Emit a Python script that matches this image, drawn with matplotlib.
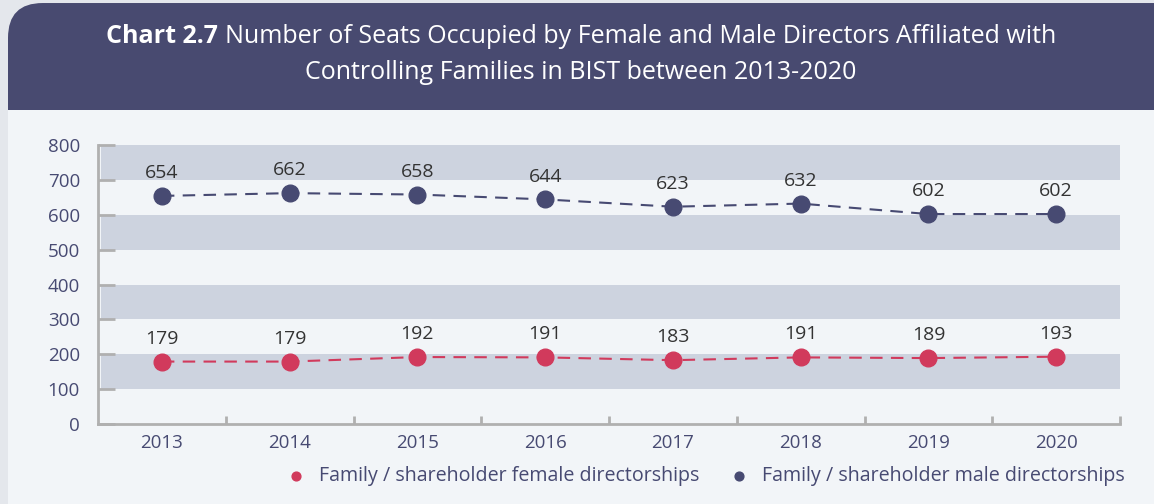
import matplotlib.pyplot as plt
from matplotlib.patches import FancyBboxPatch, Rectangle

# data
years = ['2013', '2014', '2015', '2016', '2017', '2018', '2019', '2020']
female = [179, 179, 192, 191, 183, 191, 189, 193]
male = [654, 662, 658, 644, 623, 632, 602, 602]
yticks = [0, 100, 200, 300, 400, 500, 600, 700, 800]

navy = '#474a72'
red = '#d13a5c'
band = '#cdd3df'
panel = '#f2f5f8'

plt.rcParams['font.family'] = ['Open Sans', 'DejaVu Sans']

fig = plt.figure(figsize=(11.54, 5.04), dpi=100)
fig.patch.set_facecolor('#e4e7ec')

# panel + header (behind the axes)
fig.patches.append(FancyBboxPatch((8 / 1154, 0.5), 1.2, 0.494, boxstyle='round,pad=0,rounding_size=0.03',
                                  transform=fig.transFigure, facecolor='#484a70', edgecolor='none',
                                  mutation_aspect=2.3, zorder=-10))
fig.patches.append(Rectangle((8 / 1154, 0), 1, (504 - 110) / 504, transform=fig.transFigure,
                             facecolor=panel, edgecolor='none', zorder=-9))

# title: bold part + regular part, centred together
r = fig.canvas.get_renderer()
t1 = fig.text(0, 0.927, 'Chart 2.7 ', ha='left', va='center', color='white', fontsize=18, fontweight='bold')
t2 = fig.text(0, 0.927, 'Number of Seats Occupied by Female and Male Directors Affiliated with',
              ha='left', va='center', color='white', fontsize=18)
w1 = t1.get_window_extent(r).width / fig.bbox.width
w2 = t2.get_window_extent(r).width / fig.bbox.width
x0 = 0.5035 - (w1 + w2) / 2
t1.set_x(x0)
t2.set_x(x0 + w1)
fig.text(0.5035, 0.857, 'Controlling Families in BIST between 2013-2020',
         ha='center', va='center', color='white', fontsize=18)

ax = fig.add_axes([98 / 1154, 80 / 504, 1022 / 1154, 279 / 504])
ax.set_facecolor(panel)
x = list(range(len(years)))

for lo in [100, 300, 500, 700]:
    ax.axhspan(lo, lo + 100, xmin=0.003, color=band, lw=0, zorder=0)

ax.plot(x, male, color=navy, ls=(0, (6, 4)), lw=1.5, marker='o', ms=12, zorder=3)
ax.plot(x, female, color=red, ls=(0, (6, 4)), lw=1.5, marker='o', ms=12, zorder=3)
for i in x:
    ax.annotate(str(male[i]), (i, male[i]), xytext=(0, 10), textcoords='offset points',
                ha='center', va='bottom', fontsize=14, color='#333333')
    ax.annotate(str(female[i]), (i, female[i]), xytext=(0, 10), textcoords='offset points',
                ha='center', va='bottom', fontsize=14, color='#333333')

ax.set_xlim(-0.5, 7.5)
ax.set_ylim(0, 800)
ax.set_yticks(yticks)
ax.set_yticklabels([str(v) for v in yticks], fontsize=13.5, color=navy)
ax.set_xticks(x)
ax.set_xticklabels(years, fontsize=13.5, color=navy)
ax.set_xticks([i + 0.5 for i in x], minor=True)
ax.tick_params(axis='x', which='major', length=0, pad=7)
ax.tick_params(axis='x', which='minor', direction='in', length=6, width=2, color='#b0b0b0')
ax.tick_params(axis='y', direction='in', length=12, width=2, color='#b0b0b0', pad=13)
for s in ['top', 'right']:
    ax.spines[s].set_visible(False)
for s in ['left', 'bottom']:
    ax.spines[s].set_color('#b0b0b0')
    ax.spines[s].set_linewidth(2)

h1 = ax.scatter([], [], color=red, s=40)
h2 = ax.scatter([], [], color=navy, s=40)
fig.legend([h1, h2], ['Family / shareholder female directorships', 'Family / shareholder male directorships'],
           loc='center', bbox_to_anchor=(0.607, 0.056), ncol=2, frameon=False, fontsize=14.1,
           labelcolor=navy, handletextpad=0.2, columnspacing=1.0)

fig.savefig('out.png', dpi=100, facecolor=fig.get_facecolor())
